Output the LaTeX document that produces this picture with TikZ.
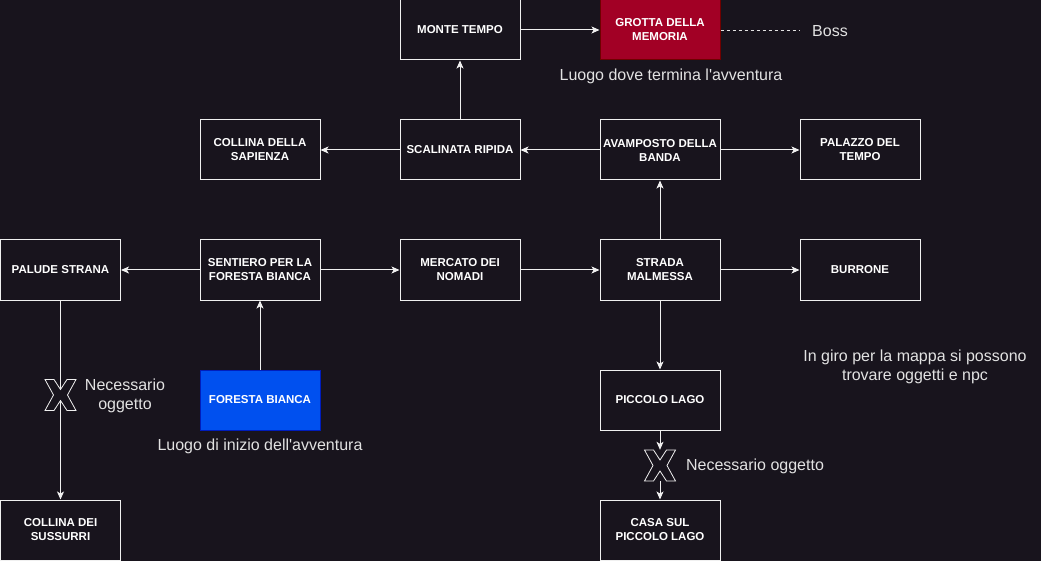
\documentclass[tikz,border=0pt]{standalone}
\usepackage{fontspec}
\setmainfont{Liberation Sans}
\usetikzlibrary{arrows.meta,positioning}

\definecolor{bgdark}{HTML}{18141D}
\definecolor{linecol}{HTML}{F0F0F0}
\definecolor{grottared}{HTML}{A20025}
\definecolor{grottaedge}{HTML}{6F0000}
\definecolor{forestblue}{HTML}{0050EF}
\definecolor{forestedge}{HTML}{001DBC}
\definecolor{labelcol}{HTML}{E2E2E2}

\tikzset{
  place/.style={draw=linecol, fill=bgdark, line width=1pt, minimum width=120pt, minimum height=60pt,
    inner sep=2pt, align=center, text=white,
    font=\fontsize{11.5}{14}\selectfont\bfseries},
  flow/.style={draw=linecol, line width=1pt, -{Stealth[length=8pt,width=7pt,inset=2pt]}},
  note/.style={text=labelcol, align=center, inner sep=0pt, font=\fontsize{16}{19}\selectfont},
  xmark/.style={minimum size=31pt, inner sep=0pt},
  xline/.style={draw=linecol, line width=0.8pt, fill=bgdark},
}

\begin{document}
\begin{tikzpicture}[x=1pt,y=-1pt]

  % background
  \fill[bgdark] (0,0) rectangle (1041,561);
  \useasboundingbox (0,0) rectangle (1041,561);

  % Places
  \node[place] (monte) at (460,30) {MONTE TEMPO};
  \node[place, fill=grottared, draw=grottaedge] (grotta) at (660,30) {GROTTA DELLA\\MEMORIA};
  \node[place] (sapienza) at (260,150) {COLLINA DELLA\\SAPIENZA};
  \node[place] (scalinata) at (460,150) {SCALINATA RIPIDA};
  \node[place] (avamposto) at (660,150) {AVAMPOSTO DELLA\\BANDA};
  \node[place] (palazzo) at (860,150) {PALAZZO DEL\\TEMPO};
  \node[place] (palude) at (60.5,270) {PALUDE STRANA};
  \node[place] (sentiero) at (260,270) {SENTIERO PER LA\\FORESTA BIANCA};
  \node[place] (mercato) at (460,270) {MERCATO DEI\\NOMADI};
  \node[place] (strada) at (660,270) {STRADA\\MALMESSA};
  \node[place] (burrone) at (860,270) {BURRONE};
  \node[place, fill=forestblue, draw=forestedge] (foresta) at (260,400) {FORESTA BIANCA};
  \node[place] (lago) at (660,400) {PICCOLO LAGO};
  \node[place] (sussurri) at (60.5,530) {COLLINA DEI\\SUSSURRI};
  \node[place] (casa) at (660,530) {CASA SUL\\PICCOLO LAGO};

  % Locks
  \node[xmark] (lock1) at (60.5,395) {};
  \node[xmark] (lock2) at (660,465.5) {};

  % Notes
  \node[note, minimum width=60pt] (boss) at (830,31) {Boss};
  \node[note] (fine) at (671,76) {Luogo dove termina l\textquotesingle avventura};
  \node[note] (inizio) at (260,446) {Luogo di inizio dell\textquotesingle avventura};
  \node[note] (oggetto1) at (125,396) {Necessario\\oggetto};
  \node[note] (oggetto2) at (755,466) {Necessario oggetto};
  \node[note] (giro) at (915,367) {In giro per la mappa si possono\\trovare oggetti e npc};

  % Flows
  \draw[flow] (monte) -- (grotta);
  \draw[flow] (scalinata) -- (monte);
  \draw[flow] (scalinata) -- (sapienza);
  \draw[flow] (avamposto) -- (scalinata);
  \draw[flow] (avamposto) -- (palazzo);
  \draw[flow] (strada) -- (avamposto);
  \draw[flow] (sentiero) -- (palude);
  \draw[flow] (sentiero) -- (mercato);
  \draw[flow] (mercato) -- (strada);
  \draw[flow] (strada) -- (burrone);
  \draw[flow] (strada) -- (lago);
  \draw[flow] (foresta) -- (sentiero);
  \draw[flow] (palude) -- (sussurri);
  \draw[flow] (lago) -- (lock2);
  \draw[flow] (lock2) -- (casa);
  \draw[draw=labelcol, line width=0.8pt, dash pattern=on 3pt off 3pt] (grotta.east) -- (grotta.east -| boss.west);

  % X marks on top
  \foreach \lock in {lock1,lock2}
    \draw[xline, shift={(\lock.center)}]
      (-15.5,-15.5) -- (-6.5,-15.5) -- (0,-5.5) -- (6.5,-15.5) -- (15.5,-15.5) -- (7,0)
      -- (15.5,15.5) -- (6.5,15.5) -- (0,5.5) -- (-6.5,15.5) -- (-15.5,15.5) -- (-7,0) -- cycle;

\end{tikzpicture}
\end{document}
